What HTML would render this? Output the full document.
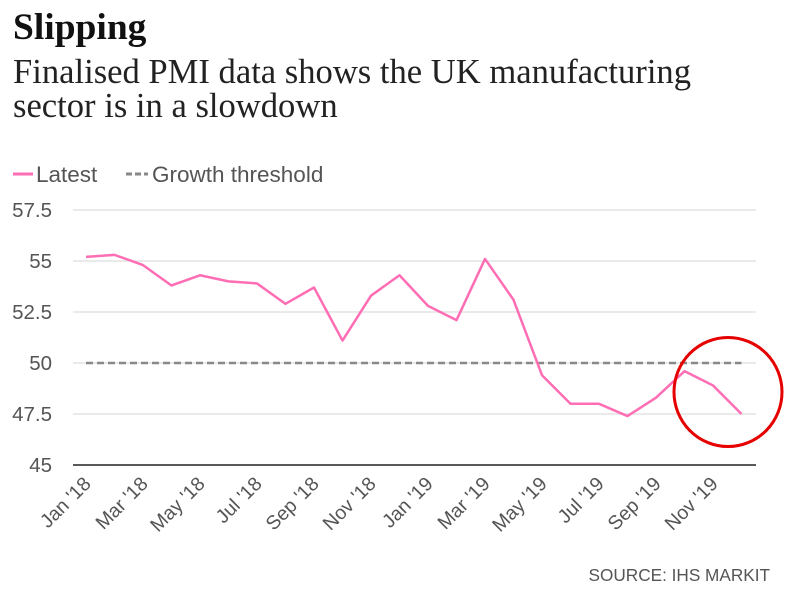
<!DOCTYPE html>
<html><head><meta charset="utf-8">
<style>
body{margin:0;background:#fff;width:800px;height:601px;overflow:hidden;}
svg text{font-family:"Liberation Sans",sans-serif;}
</style></head>
<body>
<svg width="800" height="601" viewBox="0 0 800 601">
<text x="13" y="39" font-weight="bold" font-size="37.5" fill="#111" style="font-family:'Liberation Serif',serif">Slipping</text>
<text x="13" y="83" font-size="34.6" fill="#222" style="font-family:'Liberation Serif',serif">Finalised PMI data shows the UK manufacturing</text>
<text x="13" y="117" font-size="34.6" fill="#222" style="font-family:'Liberation Serif',serif">sector is in a slowdown</text>
<g>
<line x1="13" y1="174" x2="33" y2="174" stroke="#ff6eb4" stroke-width="3"/>
<text x="36" y="182" font-size="22.5" fill="#555">Latest</text>
<line x1="126" y1="174" x2="148" y2="174" stroke="#888" stroke-width="3" stroke-dasharray="6,3"/>
<text x="152" y="182" font-size="22.5" fill="#555">Growth threshold</text>
</g>
<g id="grid"></g>
<g id="axes"></g>
<g id="series"></g>
<ellipse cx="728" cy="392" rx="54" ry="54.5" fill="none" stroke="#e60000" stroke-width="3"/>
<text x="770" y="581" text-anchor="end" font-size="17.2" fill="#555">SOURCE: IHS MARKIT</text>
</svg>
<script>
const months=["Jan '18","Feb '18","Mar '18","Apr '18","May '18","Jun '18","Jul '18","Aug '18","Sep '18","Oct '18","Nov '18","Dec '18","Jan '19","Feb '19","Mar '19","Apr '19","May '19","Jun '19","Jul '19","Aug '19","Sep '19","Oct '19","Nov '19","Dec '19"];
const latest=[55.2,55.3,54.8,53.8,54.3,54.0,53.9,52.9,53.7,51.1,53.3,54.3,52.8,52.1,55.1,53.1,49.4,48.0,48.0,47.4,48.3,49.6,48.9,47.5];
const threshold=50;
const yTicks=[45,47.5,50,52.5,55,57.5];
const yTickLabels=["45","47.5","50","52.5","55","57.5"];
const NS="http://www.w3.org/2000/svg";
const x0=86,step=28.5,gridL=73,gridR=756;
const xs=i=>x0+i*step;
const ys=v=>465-(v-45)*(51/2.5);
function mk(t,a,p){const e=document.createElementNS(NS,t);for(const k in a)e.setAttribute(k,a[k]);p.appendChild(e);return e;}
const grid=document.getElementById('grid'),axes=document.getElementById('axes'),ser=document.getElementById('series');
yTicks.forEach((v,i)=>{
 if(v!==45){const l=mk('line',{x1:gridL,x2:gridR,y1:ys(v),y2:ys(v),stroke:'#e3e3e3','stroke-width':1.5},grid);
 
 }
 const t=mk('text',{x:52,y:ys(v)+7,'text-anchor':'end','font-size':20.5,fill:'#555'},axes);
 t.textContent=yTickLabels[i];
 
 
});
const base=mk('line',{x1:gridL,x2:gridR,y1:ys(45),y2:ys(45),stroke:'#222','stroke-width':1.5},axes);


months.forEach((m,i)=>{
 if(i%2)return;
 const x=xs(i)+6,y=ys(45)+20;
 const t=mk('text',{x:x,y:y,'text-anchor':'end','font-size':19.5,fill:'#555',transform:`rotate(-45 ${x} ${y})`},axes);
 t.textContent=m;
 
 
});
const th=mk('line',{x1:xs(0),x2:xs(months.length-1),y1:ys(threshold),y2:ys(threshold),stroke:'#888','stroke-width':2.5,'stroke-dasharray':'7,4'},ser);


const pl=mk('polyline',{points:latest.map((v,i)=>xs(i)+','+ys(v)).join(' '),fill:'none',stroke:'#ff6eb4','stroke-width':2.5,'stroke-linejoin':'round'},ser);


</script>
</body></html>
